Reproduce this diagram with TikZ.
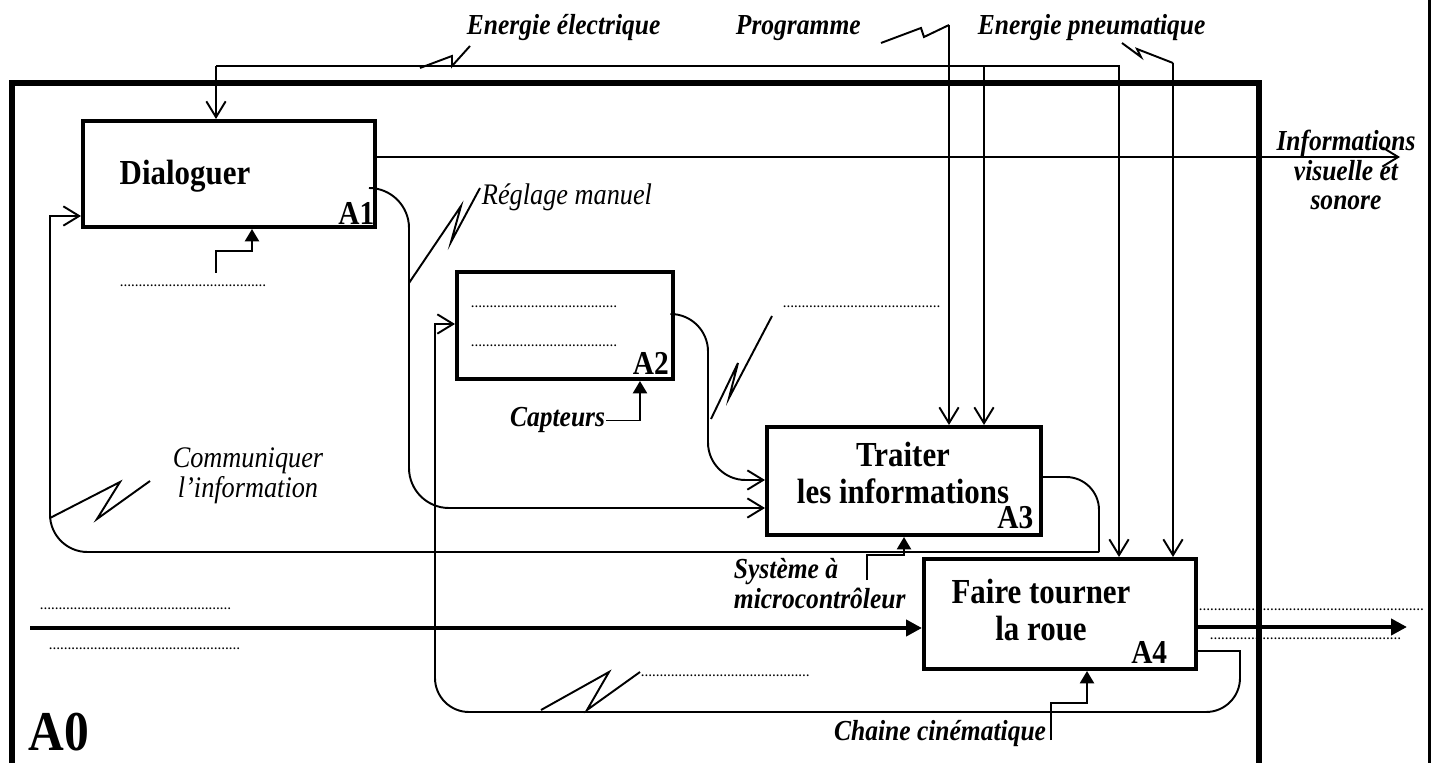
\documentclass[tikz,border=0pt]{standalone}
\usepackage{fontspec}
\setmainfont{Liberation Serif}
\newfontfamily\etroite{Liberation Serif}[FakeStretch=0.88]
\usetikzlibrary{arrows.meta,positioning}

\newcommand\pointilles[1]{\foreach \k in {1,...,#1}{\char"2026}}

\begin{document}
\begin{tikzpicture}[
		x=0.02cm, y=0.02cm,
		line width=1.1pt,
		boite/.style={draw, line width=2.3pt, inner sep=0pt},
		titre/.style={font=\etroite\fontsize{20}{21}\selectfont\bfseries, align=center, inner sep=0pt},
		code/.style={font=\etroite\fontsize{19}{19}\selectfont\bfseries, inner sep=0pt},
		etiq/.style={font=\etroite\fontsize{16.5}{17}\selectfont\bfseries\itshape, inner sep=0pt},
		etiqfine/.style={font=\etroite\fontsize{17}{17}\selectfont\itshape, inner sep=0pt},
		points/.style={font=\fontsize{6.4}{7}\selectfont\bfseries, inner sep=0pt},
		fleche/.style={-{Straight Barb[length=9pt,width=11pt]}},
		support/.style={-{Triangle[length=7pt,width=8pt]}},
		flux/.style={line width=2.8pt, -{Triangle[length=9pt,width=9pt]}}
		]
		\useasboundingbox (0,0) rectangle (1437,-763);
		
		% cadre A0 et bord de page
		\draw[line width=3pt] (12,-775) -- (12,-83) -- (1259,-83) -- (1259,-775);
		\draw[line width=1.7pt] (1429,0) -- (1429,-763);
		\node[font=\etroite\fontsize{32}{32}\selectfont\bfseries, anchor=base west, inner sep=0pt]
		(a0) at (28,-750) {A0};
		
		% boites
		\node[boite, minimum width=5.84cm, minimum height=2.12cm] (a1) at (229,-174) {};
		\node[boite, minimum width=4.32cm, minimum height=2.14cm] (a2) at (565,-325.5) {};
		\node[boite, minimum width=5.48cm, minimum height=2.16cm] (a3) at (904,-481) {};
		\node[boite, minimum width=5.44cm, minimum height=2.2cm] (a4) at (1060,-614) {};
		
		\node[titre, anchor=base] (t1) at (185,-185) {Dialoguer};
		\node[points, anchor=base] (t2a) at (544,-308) {\pointilles{13}};
		\node[points, anchor=base] (t2b) at (544,-347) {\pointilles{13}};
		\node[titre] (t3) at (903,-473) {Traiter\\les informations};
		\node[titre] (t4) at (1041,-610) {Faire tourner\\la roue};
		
		\node[code, above left=2pt and 1pt of a1.south east] (c1) {A1};
		\node[code, above left=3pt and 3pt of a2.south east] (c2) {A2};
		\node[code, above left=4pt and 5pt of a3.south east] (c3) {A3};
		\node[code, above left=4pt and 17pt of a4.south east] (c4) {A4};
		
		% energie electrique
		\coordinate (elec) at (216,-66);
		\coordinate (elecfin) at (1119,-66);
		\coordinate (elec3) at (984,-66);
		\draw[fleche] (elec) -- (elecfin) -- (elecfin |- a4.north);
		\draw[fleche] (elec) -- (elec |- a1.north);
		\draw[fleche] (elec3) -- (elec3 |- a3.north);
		\draw (420,-68) -- (452,-56) -- (452,-66) -- (470,-46);
		\node[etiq, anchor=base west] (l1) at (466,-35) {Energie électrique};
		
		% programme
		\coordinate (prog) at (949,-25);
		\draw[fleche] (prog) -- (prog |- a3.north);
		\draw (prog) -- (924,-37) -- (921,-28) -- (881,-43);
		\node[etiq, anchor=base west] (l2) at (735,-35) {Programme};
		
		% energie pneumatique
		\coordinate (pneu) at (1173,-63);
		\draw[fleche] (pneu) -- (pneu |- a4.north);
		\draw (1122,-43) -- (1141,-57) -- (1137,-49) -- (pneu);
		\node[etiq, anchor=base west] (l3) at (977,-35) {Energie pneumatique};
		
		% sortie A1
		\coordinate (info) at (1400,-157);
		\draw[fleche] (a1.east |- info) -- (info);
		\node[etiq, align=center] (l4) at (1346,-170) {Informations\\visuelle et\\sonore};
		
		% A1 vers A3
		\coordinate (regl) at (409,-188);
		\coordinate (regl2) at (409,-508);
		\draw[fleche, rounded corners=0.8cm] (a1.east |- regl) -- (regl) -- (regl2) -- (regl2 -| a3.west);
		\draw (409,-283) -- (461,-206) -- (451,-242) -- (480,-188);
		\node[etiqfine, anchor=base west] (l5) at (481,-205) {Réglage manuel};
		
		% A2 vers A3
		\coordinate (s2) at (708,-314);
		\coordinate (s2b) at (708,-480);
		\draw[fleche, rounded corners=0.75cm] (a2.east |- s2) -- (s2) -- (s2b) -- (s2b -| a3.west);
		\draw (711,-419) -- (738,-363) -- (729,-398) -- (772,-316);
		\node[points, anchor=base west] (l6) at (782,-308) {\pointilles{14}};
		
		% A3 vers A1
		\coordinate (s3) at (1099,-477);
		\coordinate (s3b) at (1099,-552);
		\coordinate (ret) at (50,-552);
		\coordinate (reth) at (50,-216);
		\draw[rounded corners=0.66cm] (a3.east |- s3) -- (s3) -- (s3b);
		\draw[rounded corners=0.75cm] (s3b) -- (ret) -- (50,-400);
		\draw[fleche] (50,-400) -- (reth) -- (reth -| a1.west);
		\draw (50,-518) -- (120,-482) -- (97,-519) -- (150,-481);
		\node[etiqfine, align=center] (l7) at (248,-476) {Communiquer\\l’information};
		
		% A4 vers A2
		\coordinate (s4) at (1240,-651);
		\coordinate (s4b) at (1240,-712);
		\coordinate (bas) at (435,-712);
		\coordinate (e2) at (435,-324);
		\draw (a4.east |- s4) -- (s4) -- (1240,-680);
		\draw[rounded corners=0.68cm] (1240,-680) -- (s4b) -- (bas) -- (435,-600);
		\draw[fleche] (435,-600) -- (e2) -- (e2 -| a2.west);
		\draw (541,-710) -- (609,-672) -- (587,-710) -- (640,-672);
		\node[points, anchor=base west] (l8) at (640,-676) {\pointilles{15}};
		
		% supports
		\coordinate (m1) at (216,-273);
		\draw[support] (m1) -- ++(0,22) -| ([xshift=0.46cm]a1.south);
		\node[points, anchor=base] (l9) at (193,-287) {\pointilles{13}};
		
		\node[etiq, anchor=base east] (capt) at (606,-427) {Capteurs};
		\draw[support] (capt.east) -| ([xshift=1.5cm]a2.south);
		
		\coordinate (m3) at (867,-580);
		\draw[support] (m3) -- ++(0,25) -| (a3.south);
		\node[etiq, align=left, anchor=west] (l10) at (733,-584) {Système à\\microcontrôleur};
		
		\coordinate (m4) at (1051,-740);
		\draw[support] (m4) -- ++(0,37) -| ([xshift=0.54cm]a4.south);
		\node[etiq, anchor=base east] (chaine) at (1047,-740) {Chaine cinématique};
		
		% flux principal
		\coordinate (entree) at (30,-628);
		\coordinate (sortie) at (1407,-627);
		\draw[flux] (entree) -- (entree -| a4.west);
		\draw[flux] (a4.east |- sortie) -- (sortie);
		\node[points, anchor=base west] (l11) at (39,-609) {\pointilles{17}};
		\node[points, anchor=base west] (l12) at (48,-649) {\pointilles{17}};
		\node[points, anchor=base west] (l13) at (1198,-610) {\pointilles{20}};
		\node[points, anchor=base west] (l14) at (1209,-639) {\pointilles{17}};
		
	\end{tikzpicture}
\end{document}
